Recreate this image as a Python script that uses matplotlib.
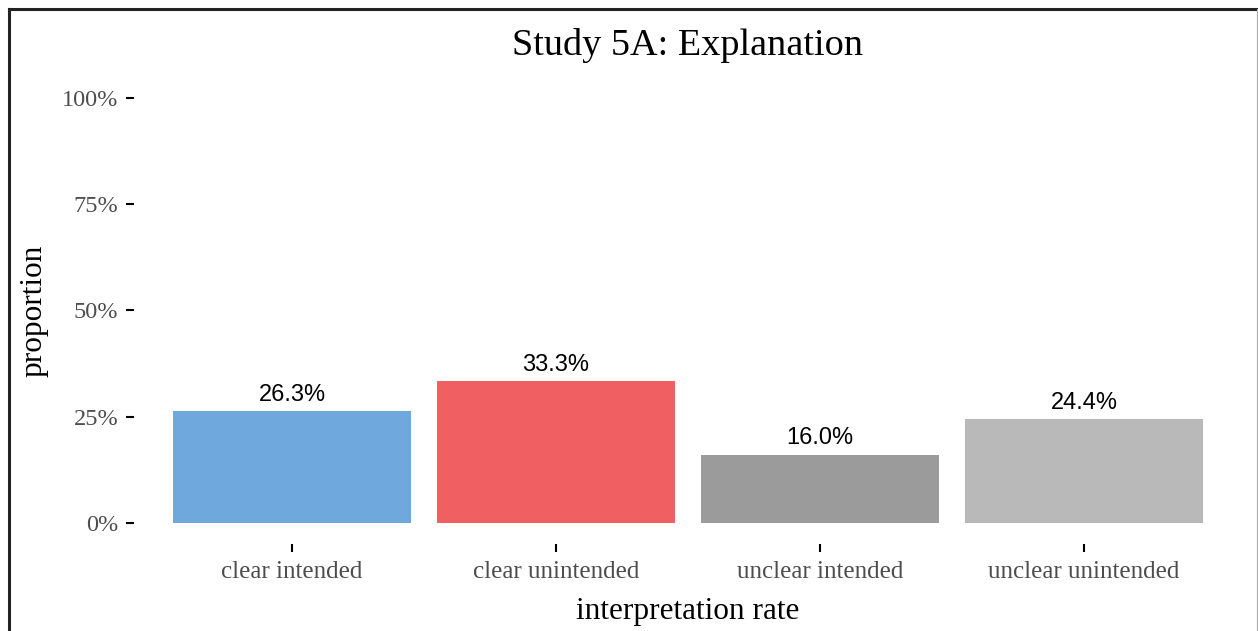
import matplotlib
matplotlib.use("Agg")
import matplotlib.pyplot as plt
from matplotlib.lines import Line2D
from matplotlib.ticker import FuncFormatter

categories = ["clear intended", "clear unintended", "unclear intended", "unclear unintended"]
proportions = [0.263, 0.333, 0.160, 0.244]
bar_labels = ["26.3%", "33.3%", "16.0%", "24.4%"]
colors = ["#6FA8DC", "#F06062", "#9B9B9B", "#B9B9B9"]
y_ticks = [0, 0.25, 0.5, 0.75, 1.0]

SERIF = "Liberation Serif"
SANS = "Liberation Sans"

fig = plt.figure(figsize=(12.58, 6.31), dpi=100)
ax = fig.add_axes([0.1062, 0.1375, 0.8814, 0.7409])

x = range(len(categories))
ax.bar(x, proportions, width=0.9, color=colors)

for i, (v, lab) in enumerate(zip(proportions, bar_labels)):
    ax.annotate(lab, (i, v), xytext=(0, 4), textcoords="offset points",
                ha="center", va="bottom", fontsize=17, family=SANS, color="black")

ax.set_xlim(-0.6, len(categories) - 0.4)
ax.set_ylim(-0.05, 1.05)
ax.set_xticks(list(x))
ax.set_xticklabels(categories, family=SERIF, fontsize=18, color="#4D4D4D")
ax.set_yticks(y_ticks)
ax.yaxis.set_major_formatter(FuncFormatter(lambda v, p: f"{v * 100:.0f}%"))
for t in ax.get_yticklabels():
    t.set_family(SERIF)
    t.set_fontsize(17.5)
    t.set_color("#4D4D4D")

ax.tick_params(axis="both", length=6, width=1.5, color="black")
ax.tick_params(axis="y", pad=5)
ax.tick_params(axis="x", pad=6)

for s in ax.spines.values():
    s.set_visible(False)

ax.set_xlabel("interpretation rate", family=SERIF, fontsize=22.5, labelpad=10)
ax.set_ylabel("proportion", family=SERIF, fontsize=22.5, labelpad=10)
ax.set_title("Study 5A: Explanation", family=SERIF, fontsize=27.5, pad=16)

# outer frame
W, H = 1258, 631
fig.add_artist(Line2D([8.5 / W, 8.5 / W], [0, 1 - 8.5 / H], transform=fig.transFigure,
                      color="#222222", lw=2.2))
fig.add_artist(Line2D([8.5 / W, 1], [1 - 8.5 / H, 1 - 8.5 / H], transform=fig.transFigure,
                      color="#222222", lw=2.2))
fig.add_artist(Line2D([1257 / W, 1257 / W], [0, 1 - 8.5 / H], transform=fig.transFigure,
                      color="#AAAAAA", lw=0.8))

fig.savefig("out.png", dpi=100)
